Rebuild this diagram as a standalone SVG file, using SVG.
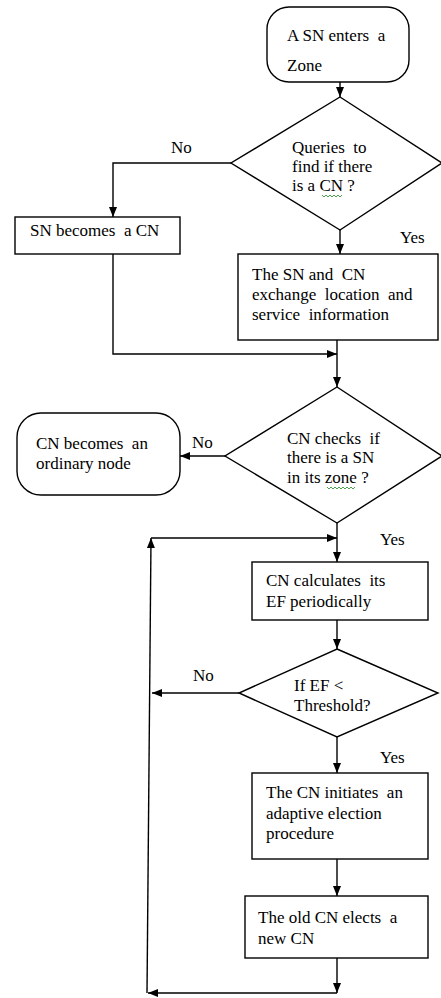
<svg xmlns="http://www.w3.org/2000/svg" width="441" height="998" viewBox="0 0 441 998" font-family="'Liberation Serif', 'DejaVu Serif', serif">
<defs>
<style>
.s{fill:#fff;stroke:#000;stroke-width:1.4}
.c{fill:none;stroke:#000;stroke-width:1.4}
text{font-family:'Liberation Serif','DejaVu Serif',serif;font-size:17px;fill:#000;white-space:pre}
.sq{fill:none;stroke:#3a9a3a;stroke-width:0.9}
</style>
<marker id="a" markerUnits="userSpaceOnUse" markerWidth="10" markerHeight="10" viewBox="0 0 10 8" refX="10" refY="4" orient="auto">
<path d="M0,0 L10,4 L0,8 Z" fill="#000"/>
</marker>
</defs>
<rect width="441" height="998" fill="#fff"/>
<g id="connectors">
<path class="c" d="M340,82 V97" marker-end="url(#a)"/>
<path class="c" d="M231,163 H113 V217" marker-end="url(#a)"/>
<path class="c" d="M340,230 V254" marker-end="url(#a)"/>
<path class="c" d="M113,254 V354 H337" marker-end="url(#a)"/>
<path class="c" d="M337,340 V387" marker-end="url(#a)"/>
<path class="c" d="M225,456 H180" marker-end="url(#a)"/>
<path class="c" d="M337,523 V562" marker-end="url(#a)"/>
<path class="c" d="M337,620 V649" marker-end="url(#a)"/>
<path class="c" d="M239,693 H152" marker-end="url(#a)"/>
<path class="c" d="M337,737 V773" marker-end="url(#a)"/>
<path class="c" d="M337,859 V896" marker-end="url(#a)"/>
<path class="c" d="M337,958 V993" marker-end="url(#a)"/>
<path class="c" d="M337,993 H148" marker-end="url(#a)"/>
<path class="c" d="M147,993 L151,538" marker-end="url(#a)"/>
<path class="c" d="M151,538 H337" marker-end="url(#a)"/>
</g>
<g id="start">
<rect class="s" x="267" y="7" width="142" height="75" rx="22"/>
<text x="287" y="41">A SN enters  a</text>
<text x="287" y="71">Zone</text>
</g>
<g id="q1">
<polygon class="s" points="340,97 442,163 340,230 231,163"/>
<text x="292" y="153">Queries  to</text>
<text x="292" y="172">find if there</text>
<text x="292" y="191">is a CN ?</text>
<path class="sq" d="M322,195 l2,2 l2,-2 l2,2 l2,-2 l2,2 l2,-2 l2,2 l2,-2 l2,2 l2,-2"/>
</g>
<g id="becomeCN">
<rect class="s" x="15" y="217" width="165" height="37"/>
<text x="30" y="236">SN becomes  a CN</text>
</g>
<g id="exchange">
<rect class="s" x="238" y="254" width="200" height="86"/>
<text x="252" y="280">The SN and  CN</text>
<text x="252" y="300">exchange  location  and</text>
<text x="252" y="320">service  information</text>
</g>
<g id="q2">
<polygon class="s" points="337,387 442,456 337,523 225,456"/>
<text x="287" y="444">CN checks  if</text>
<text x="287" y="463">there is a SN</text>
<text x="287" y="483">in its zone ?</text>
<path class="sq" d="M327,487 l2,2 l2,-2 l2,2 l2,-2 l2,2 l2,-2 l2,2 l2,-2 l2,2 l2,-2 l2,2 l2,-2 l2,2 l2,-2"/>
</g>
<g id="ordinary">
<rect class="s" x="17" y="413" width="163" height="82" rx="24"/>
<text x="36" y="449">CN becomes  an</text>
<text x="36" y="469">ordinary node</text>
</g>
<g id="calc">
<rect class="s" x="252" y="562" width="176" height="58"/>
<text x="266" y="586">CN calculates  its</text>
<text x="266" y="607">EF periodically</text>
</g>
<g id="q3">
<polygon class="s" points="337,649 438,693 337,737 239,693"/>
<text x="294" y="691">If EF &lt;</text>
<text x="294" y="711">Threshold?</text>
</g>
<g id="initiate">
<rect class="s" x="252" y="773" width="176" height="86"/>
<text x="266" y="798">The CN initiates  an</text>
<text x="266" y="819">adaptive election</text>
<text x="266" y="839">procedure</text>
</g>
<g id="elect">
<rect class="s" x="245" y="896" width="183" height="62"/>
<text x="258" y="923">The old CN elects  a</text>
<text x="258" y="944">new CN</text>
</g>
<g id="labels">
<text x="171" y="153">No</text>
<text x="400" y="243">Yes</text>
<text x="192" y="448">No</text>
<text x="380" y="545">Yes</text>
<text x="193" y="681">No</text>
<text x="380" y="763">Yes</text>
</g>
</svg>
